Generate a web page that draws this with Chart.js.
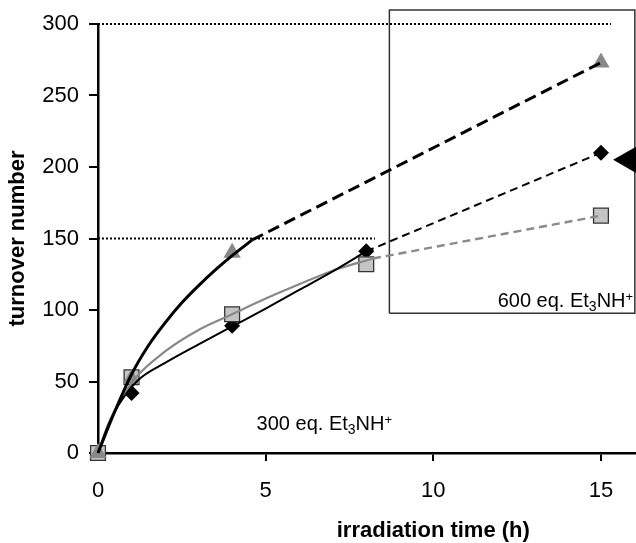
<!DOCTYPE html>
<html>
<head>
<meta charset="utf-8">
<script src="https://cdn.jsdelivr.net/npm/chart.js@4.4.1/dist/chart.umd.min.js"></script>
<style>
  html, body { margin: 0; padding: 0; background: #fff; }
  #wrap { width: 636px; height: 543px; }
</style>
</head>
<body>
<div id="wrap"><canvas id="c" width="636" height="543"></canvas></div>
<script>
// Measured turnover numbers (0-8 h: 300 eq. Et3NH+, 15 h: 600 eq. Et3NH+)
const timeTriangle = [0, 1, 4, 15];
const tonTriangle  = [0, 52, 140, 273];
const timeDiamond  = [0, 1, 4, 8, 15];
const tonDiamond   = [0, 42, 89, 141, 210];
const timeSquare   = [0, 1, 4, 8, 15];
const tonSquare    = [0, 53, 97, 132, 166];

// Fitted kinetic curves (solid) for the 300 eq. runs
const fitTriangleX = [0, 0.5, 1, 1.5, 2, 2.5, 3, 3.5, 4, 4.6];
const fitTriangleY = [0, 29, 55, 75, 91, 105, 117, 128, 138, 149];
const fitDiamondX  = [0, 0.3, 0.6, 1.2, 2, 3, 4, 5, 6, 7, 8];
const fitDiamondY  = [0, 19, 33, 51, 63, 76, 88.5, 101, 114, 127, 141];
const fitSquareX   = [0, 0.3, 0.6, 1.1, 2, 3, 4, 5, 6, 7, 8.2];
const fitSquareY   = [0, 20, 34, 52, 71, 86, 97, 108, 118, 127.5, 136];

// Extrapolation (dashed) towards the 600 eq. results
const extTriangleX = [4.6, 15];
const extTriangleY = [149, 273];
const extDiamondX  = [8, 15];
const extDiamondY  = [141, 210];
const extSquareX   = [8.2, 15];
const extSquareY   = [136, 166];

// Dotted guide levels and their extent
const guideLevels = [300, 150];
const guideEnds   = [15.3, 8.26];

// Frame around the 600 eq. results
const frameX = [8.69, 8.69, 16.01, 16.01, 8.69];
const frameY = [97.7, 309.8, 309.8, 97.7, 97.7];

// Arrow marker at the right edge
const arrowX = [15.84];
const arrowY = [205];

const xTicks = [0, 5, 10, 15];
const yTicks = [0, 50, 100, 150, 200, 250, 300];

const xTitle = 'irradiation time (h)';
const yTitle = 'turnover number';
const xTitleAt = 10;

// Condition notes: [x, y (baseline), text parts]
const notes = [
  { x: 4.73, y: 16.1, parts: [['300 eq. Et', ''], ['3', 'sub'], ['NH', ''], ['+', 'sup']] },
  { x: 11.92, y: 101.9, parts: [['600 eq. Et', ''], ['3', 'sub'], ['NH', ''], ['+', 'sup']] }
];

const FONT = '"Liberation Sans", Arial, Helvetica, sans-serif';
Chart.defaults.font.family = FONT;
Chart.defaults.color = '#000';

const zip = (xs, ys) => xs.map((v, i) => ({ x: v, y: ys[i] }));

const curve = (xs, ys, color, width, dash, order) => ({
  type: 'line',
  data: zip(xs, ys),
  borderColor: color,
  borderWidth: width,
  borderDash: dash,
  pointRadius: 0,
  pointHoverRadius: 0,
  cubicInterpolationMode: 'monotone',
  fill: false,
  clip: false,
  order: order
});

const markers = (xs, ys, style, radius, fillColor, edgeColor, edgeWidth, order) => ({
  type: 'scatter',
  data: zip(xs, ys),
  pointStyle: style,
  pointRadius: radius,
  pointHoverRadius: radius,
  backgroundColor: fillColor,
  borderColor: edgeColor,
  borderWidth: edgeWidth,
  showLine: false,
  clip: false,
  order: order
});

const datasets = [
  curve(fitTriangleX, fitTriangleY, '#000', 3, [], 1),
  curve(fitDiamondX, fitDiamondY, '#000', 2, [], 1),
  curve(fitSquareX, fitSquareY, '#888', 2.2, [], 1),
  curve(extTriangleX, extTriangleY, '#000', 3, [12, 6], 1),
  curve(extDiamondX, extDiamondY, '#000', 2, [8, 5], 1),
  curve(extSquareX, extSquareY, '#8a8a8a', 2.4, [8, 5], 1),
  markers(timeTriangle, tonTriangle, 'triangle', 10, '#888', '#888', 0, 2),
  markers(timeSquare, tonSquare, 'rect', 10.5, '#c4c4c4', '#333', 1.3, 3),
  markers(timeDiamond, tonDiamond, 'rectRot', 8, '#000', '#000', 0, 4),
  {
    type: 'scatter',
    data: zip(arrowX, arrowY),
    pointStyle: 'triangle',
    rotation: -90,
    pointRadius: 16,
    pointHoverRadius: 16,
    backgroundColor: '#000',
    borderWidth: 0,
    clip: false,
    order: 0
  },
  {
    type: 'line',
    data: zip(frameX, frameY),
    borderColor: '#333',
    borderWidth: 1.5,
    pointRadius: 0,
    tension: 0,
    fill: false,
    clip: false,
    order: 6
  }
];

guideLevels.forEach((lvl, i) => {
  datasets.push({
    type: 'line',
    data: zip([0, guideEnds[i]], [lvl, lvl]),
    borderColor: '#000',
    borderWidth: 2,
    borderDash: [2, 2],
    pointRadius: 0,
    fill: false,
    clip: false,
    order: 7
  });
});

const textPlugin = {
  id: 'textNotes',
  afterDraw(chart) {
    const { ctx, scales: { x, y } } = chart;
    ctx.save();
    ctx.fillStyle = '#000';
    ctx.textBaseline = 'alphabetic';
    ctx.textAlign = 'left';
    notes.forEach(n => {
      let px = x.getPixelForValue(n.x);
      const py = y.getPixelForValue(n.y);
      n.parts.forEach(([t, kind]) => {
        let dy = 0;
        if (kind === 'sub') { ctx.font = '14px ' + FONT; dy = 4; }
        else if (kind === 'sup') { ctx.font = '13px ' + FONT; dy = -6; }
        else { ctx.font = '20px ' + FONT; }
        ctx.fillText(t, px, py + dy);
        px += ctx.measureText(t).width;
      });
    });
    ctx.font = 'bold 22px ' + FONT;
    ctx.textAlign = 'center';
    ctx.textBaseline = 'middle';
    ctx.fillText(xTitle, x.getPixelForValue(xTitleAt), chart.chartArea.bottom + 78);
    ctx.restore();
  }
};

new Chart(document.getElementById('c'), {
  data: { datasets },
  options: {
    responsive: false,
    animation: false,
    events: [],
    layout: { autoPadding: false, padding: { left: 0, right: 1.5, top: 24, bottom: 0 } },
    plugins: { legend: { display: false }, tooltip: { enabled: false } },
    scales: {
      x: {
        type: 'linear',
        min: 0,
        max: 16,
        afterBuildTicks: s => { s.ticks = xTicks.map(v => ({ value: v })); },
        afterFit: s => { s.height = 90; s.paddingLeft = 0; s.paddingRight = 0; },
        ticks: { font: { size: 22 }, color: '#000', padding: 17, maxRotation: 0 },
        grid: { display: true, drawOnChartArea: false, drawTicks: true, tickLength: 8, color: '#000', lineWidth: 2 },
        border: { display: true, color: '#000', width: 2.5 },
        title: { display: false }
      },
      y: {
        type: 'linear',
        min: 0,
        max: 300,
        afterBuildTicks: s => { s.ticks = yTicks.map(v => ({ value: v })); },
        afterFit: s => { s.width = 98; s.paddingTop = 0; s.paddingBottom = 0; },
        ticks: { font: { size: 22 }, color: '#000', padding: 10 },
        grid: { display: true, drawOnChartArea: false, drawTicks: true, tickLength: 9, color: '#000', lineWidth: 2 },
        border: { display: true, color: '#000', width: 2.5 },
        title: { display: true, text: yTitle, font: { size: 22, weight: 'bold' }, color: '#000', padding: { top: 5, bottom: 0 } }
      }
    }
  },
  plugins: [textPlugin]
});
</script>
</body>
</html>
